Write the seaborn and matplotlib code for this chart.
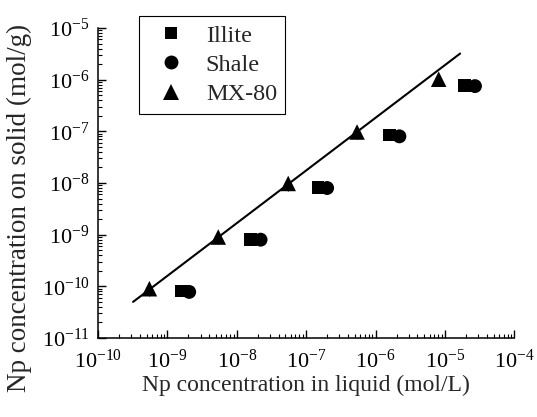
import numpy as np
import pandas as pd
import matplotlib
matplotlib.use("Agg")
import matplotlib.pyplot as plt
import seaborn as sns
from matplotlib.ticker import LogLocator, LogFormatterSciNotation

# ---- data ----
materials = ["Illite", "Shale", "MX-80"]
illite_x = [1.58e-9, 1.58e-8, 1.48e-7, 1.58e-6, 1.9e-5]
illite_y = [8.1e-11, 8.2e-10, 8.3e-9, 8.5e-8, 7.8e-7]
shale_x = [2.06e-9, 2.2e-8, 2.0e-7, 2.2e-6, 2.7e-5]
shale_y = [7.8e-11, 8.0e-10, 8.0e-9, 8.0e-8, 7.5e-7]
mx80_x = [5.5e-10, 5.4e-9, 5.5e-8, 5.4e-7, 8.1e-6]
mx80_y = [9.0e-11, 9.0e-10, 9.8e-9, 9.7e-8, 1.02e-6]
mx80_err = [2.5e-11, 2.5e-10, 2.7e-9, 2.7e-8, 2.8e-7]
fit_x = [3.2e-10, 1.65e-5]
fit_y = [5.0e-11, 3.2e-6]

df = pd.concat([
    pd.DataFrame({"x": illite_x, "y": illite_y, "material": "Illite"}),
    pd.DataFrame({"x": shale_x, "y": shale_y, "material": "Shale"}),
    pd.DataFrame({"x": mx80_x, "y": mx80_y, "material": "MX-80"}),
], ignore_index=True)
fit_df = pd.DataFrame({"x": fit_x, "y": fit_y})

sns.set_theme(style="ticks")
plt.rcParams["font.family"] = ["Liberation Serif", "DejaVu Serif"]
plt.rcParams["mathtext.fontset"] = "custom"
plt.rcParams["mathtext.rm"] = "Liberation Serif"
plt.rcParams["mathtext.it"] = "Liberation Serif:italic"
plt.rcParams["mathtext.bf"] = "Liberation Serif:bold"
plt.rcParams["axes.unicode_minus"] = False

fig = plt.figure(figsize=(5.37, 4.17), dpi=100)
ax = fig.add_axes([0.1825, 0.1894, 0.958 - 0.1825, 0.9329 - 0.1894])

sns.lineplot(data=fit_df, x="x", y="y", ax=ax, color="black", lw=1.5,
             legend=False)
ax.errorbar(mx80_x, mx80_y, yerr=mx80_err, fmt="none", ecolor="black",
            elinewidth=0.8, capsize=0, zorder=2)
sns.scatterplot(data=df, x="x", y="y", style="material", hue="material",
                size="material",
                hue_order=materials, style_order=materials, size_order=materials,
                palette=["black"] * 3,
                sizes={"Illite": 85, "Shale": 100, "MX-80": 125},
                markers={"Illite": "s", "Shale": "o", "MX-80": "^"},
                edgecolor="black", linewidth=0, ax=ax, zorder=3)

ax.set_xscale("log")
ax.set_yscale("log")
ax.set_xlim(1e-10, 1e-4)
ax.set_ylim(1e-11, 1e-5)
for axis in (ax.xaxis, ax.yaxis):
    axis.set_major_locator(LogLocator(base=10, numticks=20))
    axis.set_minor_locator(LogLocator(base=10, subs=np.arange(2, 10), numticks=20))
    axis.set_major_formatter(LogFormatterSciNotation())

sns.despine(ax=ax)
for sp in ("left", "bottom"):
    ax.spines[sp].set_linewidth(1.1)
    ax.spines[sp].set_color("black")
ax.tick_params(which="major", direction="in", length=6, width=1, labelsize=16,
               colors="black")
ax.tick_params(axis="x", which="major", pad=8)
ax.tick_params(axis="y", which="major", pad=6)
ax.tick_params(which="minor", direction="in", length=3, width=0.8, colors="black")

ax.set_xlabel("Np concentration in liquid (mol/L)", fontsize=17)
ax.set_ylabel("Np concentration on solid (mol/g)", fontsize=19.5)
ax.xaxis.set_label_coords(0.5, -0.118)
ax.yaxis.set_label_coords(-0.158, 0.419)

handles, labels = ax.get_legend_handles_labels()
leg = ax.legend(handles=handles, labels=labels, loc="upper left",
                bbox_to_anchor=(139 / 537, 1 - 16 / 417),
                bbox_transform=fig.transFigure, borderaxespad=0,
                fontsize=17.5, frameon=True,
                fancybox=False, edgecolor="black", framealpha=1,
                handletextpad=0.5, borderpad=0.35, labelspacing=0.3,
                handlelength=1.9)
leg.get_frame().set_linewidth(0.8)

fig.savefig("out.png", dpi=100)
